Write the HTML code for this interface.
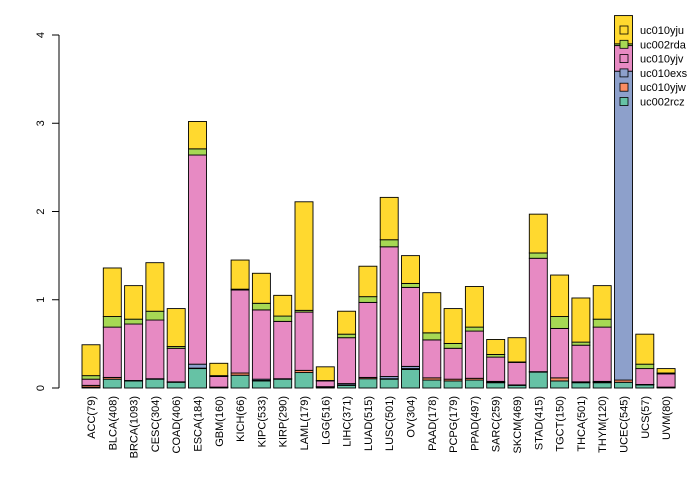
<!DOCTYPE html>
<html><head><meta charset="utf-8"><style>
html,body{margin:0;padding:0;background:#fff;}
svg text{font-family:"Liberation Sans",Arial,sans-serif;}
</style></head><body>
<svg id="chart" width="700" height="480" xmlns="http://www.w3.org/2000/svg">
<g id="axis"></g>
<g id="bars"></g>
<g id="xlabels"></g>
<g id="legend"></g>
</svg>
<script>
const categories=["ACC(79)","BLCA(408)","BRCA(1093)","CESC(304)","COAD(406)","ESCA(184)","GBM(160)","KICH(66)","KIPC(533)","KIRP(290)","LAML(179)","LGG(516)","LIHC(371)","LUAD(515)","LUSC(501)","OV(304)","PAAD(178)","PCPG(179)","PPAD(497)","SARC(259)","SKCM(469)","STAD(415)","TGCT(150)","THCA(501)","THYM(120)","UCEC(545)","UCS(57)","UVM(80)"];
const seriesNames=["uc002rcz","uc010yjw","uc010exs","uc010yjv","uc002rda","uc010yju"];
const uc002rcz=[.01,.10,.08,.10,.065,.22,.005,.145,.08,.10,.175,.01,.03,.105,.10,.21,.09,.08,.09,.06,.03,.18,.08,.06,.06,.065,.035,.005];
const uc010yjw=[.02,.02,.005,.005,.005,.005,.005,.025,.005,.005,.025,.005,.005,.015,.005,.01,.025,.02,.02,.005,.005,.005,.035,.005,.005,.025,.005,.005];
const uc010exs=[0,0,0,0,0,.045,0,0,.015,0,0,0,.015,0,.025,.025,0,0,0,.01,0,0,0,.005,.01,3.50,0,0];
const uc010yjv=[.07,.57,.64,.665,.38,2.37,.12,.94,.785,.65,.66,.065,.52,.85,1.47,.895,.43,.35,.535,.275,.255,1.285,.56,.415,.615,.29,.18,.15];
const uc002rda=[.04,.12,.055,.10,.02,.07,.01,.01,.075,.06,.02,.005,.04,.065,.08,.045,.08,.055,.045,.03,.005,.06,.135,.035,.09,.02,.05,.01];
const uc010yju=[.35,.55,.38,.55,.43,.31,.14,.33,.34,.235,1.23,.155,.26,.345,.48,.315,.455,.395,.46,.17,.275,.44,.47,.50,.38,.32,.34,.05];
const yTicks=[0,1,2,3,4];
const series=[uc002rcz,uc010yjw,uc010exs,uc010yjv,uc002rda,uc010yju];
const colors=["#66C2A5","#FC8D62","#8DA0CB","#E78AC3","#A6D854","#FFD92F"];
const NS="http://www.w3.org/2000/svg";
const y0=388,y4=35;
function yScale(v){return y0-(y0-y4)*v/4;}
function xScale(i){return 82+i*21.3;}
const bw=18;
function mk(tag,attrs,parent){const e=document.createElementNS(NS,tag);for(const k in attrs)e.setAttribute(k,attrs[k]);parent.appendChild(e);return e;}
const ax=document.getElementById('axis');
const al=mk('line',{x1:59,x2:59,y1:yScale(0),y2:yScale(4),stroke:'#000','stroke-width':1},ax);


yTicks.forEach(t=>{
  const tk=mk('line',{x1:52,x2:59,y1:yScale(t),y2:yScale(t),stroke:'#000','stroke-width':1},ax);
  
  
  const tx=mk('text',{x:0,y:0,'font-size':11,'text-anchor':'middle',transform:`translate(44,${yScale(t)}) rotate(-90)`},ax);
  tx.textContent=t;
  
  
});
const bg=document.getElementById('bars');
const xl=document.getElementById('xlabels');
categories.forEach((c,i)=>{
  let cum=0;
  series.forEach((s,j)=>{
    const v=s[i];
    const r=mk('rect',{x:xScale(i),y:yScale(cum+v),width:bw,height:Math.max(0,yScale(cum)-yScale(cum+v)),fill:colors[j],stroke:'#000','stroke-width':0.9},bg);
    
    
    cum+=v;
  });
  const t=mk('text',{x:0,y:0,'font-size':11,'text-anchor':'end',transform:`translate(${xScale(i)+bw/2+4},396) rotate(-90)`},xl);
  t.textContent=c;
  
  
});
const lg=document.getElementById('legend');
const order=[5,4,3,2,1,0];
order.forEach((j,k)=>{
  const yy=30+k*14.3;
  const sq=mk('rect',{x:620,y:yy-4,width:8,height:8,fill:colors[j],stroke:'#000','stroke-width':0.8},lg);
  
  
  const tx=mk('text',{x:640,y:yy+4,'font-size':11},lg);
  tx.textContent=seriesNames[j];
  
  
});
</script>
</body></html>
